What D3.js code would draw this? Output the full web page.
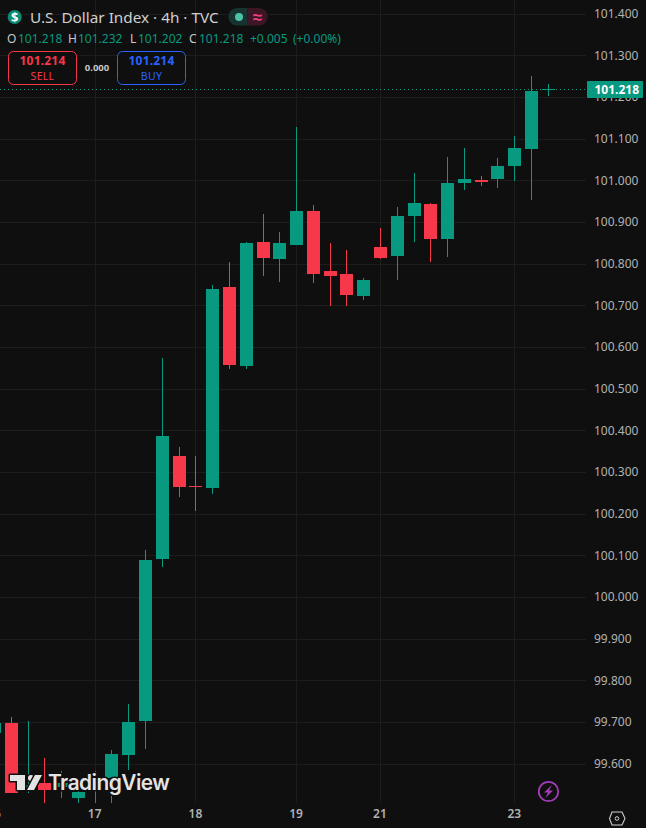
<!DOCTYPE html>
<html>
<head>
<meta charset="utf-8">
<script src="https://cdn.jsdelivr.net/npm/d3@7"></script>
<style>
  html, body { margin: 0; padding: 0; background: #0f0f0f; overflow: hidden; }
  svg { display: block; font-family: "Noto Sans", sans-serif; }
</style>
</head>
<body>
<div id="chart"></div>
<script>
var opens  = [99.674, 99.698, 99.537, 99.554, 99.545, 99.519, 99.550, 99.566, 99.621, 99.703, 100.091, 100.339, 100.267, 100.262, 100.744, 100.555, 100.852, 100.811, 100.845, 100.926, 100.782, 100.775, 100.722, 100.840, 100.818, 100.914, 100.943, 100.859, 100.994, 101.001, 101.003, 101.034, 101.076, 101.218];
var highs  = [99.700, 99.712, 99.703, 99.614, 99.583, 99.537, 99.583, 99.633, 99.744, 100.113, 100.574, 100.360, 100.339, 100.749, 100.804, 100.852, 100.919, 100.876, 101.128, 100.941, 100.850, 100.833, 100.766, 100.886, 100.936, 101.018, 100.946, 101.056, 101.078, 101.010, 101.054, 101.106, 101.250, 101.232];
var lows   = [99.670, 99.531, 99.530, 99.506, 99.518, 99.506, 99.506, 99.506, 99.585, 99.636, 100.073, 100.240, 100.207, 100.247, 100.547, 100.547, 100.770, 100.756, 100.845, 100.754, 100.698, 100.698, 100.713, 100.811, 100.761, 100.852, 100.804, 100.816, 100.977, 100.986, 100.982, 100.998, 100.953, 101.202];
var closes = [99.698, 99.531, 99.550, 99.537, 99.553, 99.532, 99.560, 99.624, 99.700, 100.089, 100.387, 100.264, 100.264, 100.739, 100.557, 100.850, 100.814, 100.850, 100.926, 100.775, 100.770, 100.725, 100.761, 100.814, 100.914, 100.946, 100.859, 100.994, 101.003, 100.996, 101.034, 101.078, 101.214, 101.218];

var priceTicks = [99.6, 99.7, 99.8, 99.9, 100, 100.1, 100.2, 100.3, 100.4, 100.5, 100.6, 100.7, 100.8, 100.9, 101, 101.1, 101.2, 101.3, 101.4];
var dayBars   = [0, 6, 12, 18, 23, 31];
var dayLabels = ["16", "17", "18", "19", "21", "23"];
var lastPrice = 101.218;

var legendOhlc = [["O", "101.218", 7, 18], ["H", "101.232", 68, 78], ["L", "101.202", 130, 138], ["C", "101.218", 189, 199]];

var GREEN = "#089981", RED = "#f7374a", BG = "#0f0f0f", GRID = "#1d1d1d", AXIS_TEXT = "#b2b2b2";
var width = 646, height = 828, plotRight = 586, plotBottom = 803;

var x = d3.scaleLinear().domain([0, 33]).range([-5.5, 548.3]);
var y = d3.scaleLinear().domain([99.6, 101.4]).range([763.8, 13.6]);

var svg = d3.select("#chart").append("svg").attr("width", width).attr("height", height);
svg.append("rect").attr("width", width).attr("height", height).attr("fill", BG);

var plot = svg.append("g");

// grid
plot.append("g").selectAll("line").data(priceTicks).enter().append("line")
  .attr("x1", 0).attr("x2", plotRight)
  .attr("y1", function(d) { return Math.round(y(d)) + 0.5; })
  .attr("y2", function(d) { return Math.round(y(d)) + 0.5; })
  .attr("stroke", GRID);
plot.append("g").selectAll("line").data(dayBars).enter().append("line")
  .attr("x1", function(d) { return Math.floor(x(d)) + 0.5; })
  .attr("x2", function(d) { return Math.floor(x(d)) + 0.5; })
  .attr("y1", 0).attr("y2", plotBottom)
  .attr("stroke", GRID);

// candles
var bars = opens.map(function(o, i) {
  return { i: i, o: o, h: highs[i], l: lows[i], c: closes[i] };
});
function barColor(d) { return d.c >= d.o ? GREEN : RED; }
var candle = plot.append("g").selectAll("g").data(bars).enter().append("g");
candle.append("rect")
  .attr("x", function(d) { return Math.floor(x(d.i)); })
  .attr("width", 1)
  .attr("y", function(d) { return Math.round(y(d.h)); })
  .attr("height", function(d) { return Math.round(y(d.l)) - Math.round(y(d.h)); })
  .attr("fill", barColor);
candle.append("rect")
  .attr("x", function(d) { return Math.floor(x(d.i)) - 6; })
  .attr("width", 13)
  .attr("y", function(d) { return Math.round(y(Math.max(d.o, d.c))); })
  .attr("height", function(d) { return Math.max(1, Math.round(y(Math.min(d.o, d.c))) - Math.round(y(Math.max(d.o, d.c)))); })
  .attr("fill", barColor);

// last price line
plot.append("line")
  .attr("x1", 0).attr("x2", plotRight)
  .attr("y1", Math.round(y(lastPrice)) + 0.5).attr("y2", Math.round(y(lastPrice)) + 0.5)
  .attr("stroke", GREEN).attr("stroke-dasharray", "1 3");

// price axis
var yAxis = d3.axisRight(y).tickValues(priceTicks).tickSize(0).tickPadding(0).tickFormat(d3.format(".3f"));
var yG = svg.append("g").attr("transform", "translate(594,0)").call(yAxis);
yG.select(".domain").remove();
yG.selectAll("text").attr("fill", AXIS_TEXT).attr("font-size", 12).attr("font-family", "\"Noto Sans\", sans-serif");

// last price label
svg.append("rect").attr("x", 587).attr("y", 81).attr("width", 56).attr("height", 17).attr("rx", 1).attr("fill", GREEN);
svg.append("text").attr("x", 594.5).attr("y", 94).attr("fill", "#fff")
  .attr("font-size", 12).attr("font-weight", 700).text(d3.format(".3f")(lastPrice));

// time axis
var xAxis = d3.axisBottom(x).tickValues(dayBars).tickSize(0).tickPadding(0)
  .tickFormat(function(d, i) { return dayLabels[i]; });
var xG = svg.append("g").attr("transform", "translate(-1,809)").call(xAxis);
xG.select(".domain").remove();
xG.selectAll("text").attr("fill", AXIS_TEXT).attr("font-size", 12).attr("font-weight", 600).attr("font-family", "\"Noto Sans\", sans-serif");

// watermark
var mark = svg.append("g").attr("fill", "#e3e3e3").attr("stroke", BG).attr("stroke-width", 3)
  .attr("paint-order", "stroke").attr("stroke-linejoin", "round");
mark.append("path").attr("d", "M10 775H25V790H17V781H10Z");
mark.append("circle").attr("cx", 31).attr("cy", 778).attr("r", 3);
mark.append("path").attr("d", "M35 775H42L34 790H27Z");
mark.append("text").attr("x", 48).attr("y", 790).attr("font-size", 21).attr("font-weight", 600)
  .attr("font-family", "Inter, sans-serif").attr("textLength", 122).text("TradingView");

// header
svg.append("circle").attr("cx", 14.7).attr("cy", 17).attr("r", 7).attr("fill", "#0a8a72");
svg.append("text").attr("x", 14.7).attr("y", 21.5).attr("text-anchor", "middle").attr("fill", "#fff")
  .attr("font-size", 13).attr("font-weight", 700).text("$");
svg.append("text").attr("x", 30).attr("y", 22.5).attr("fill", "#cfcfcf").attr("font-size", 15.3)
  .text("U.S. Dollar Index · 4h · TVC");

svg.append("path").attr("d", "M247.5 8H237a8.7 8.7 0 0 0 0 17.5H247.5Z").attr("fill", "#16332f");
svg.append("path").attr("d", "M247.5 8H259a8.7 8.7 0 0 1 0 17.5H247.5Z").attr("fill", "#3d1626");
svg.append("circle").attr("cx", 239).attr("cy", 17).attr("r", 4).attr("fill", "#4cc1a6");
svg.append("text").attr("x", 257.5).attr("y", 23).attr("text-anchor", "middle").attr("fill", "#ef3f7f")
  .attr("font-size", 17).attr("font-weight", 700).text("≈");

var legend = svg.append("g").attr("font-size", 12);
legendOhlc.forEach(function(row) {
  legend.append("text").attr("x", row[2]).attr("y", 43).attr("fill", "#c8c8c8").text(row[0]);
  legend.append("text").attr("x", row[3]).attr("y", 43).attr("fill", GREEN).text(row[1]);
});
legend.append("text").attr("x", 250).attr("y", 43).attr("fill", GREEN).text("+0.005");
legend.append("text").attr("x", 293).attr("y", 43).attr("fill", GREEN).text("(+0.00%)");

// sell / buy
function tradeBox(bx, w, color, side, labelColor) {
  svg.append("rect").attr("x", bx).attr("y", 51.5).attr("width", w).attr("height", 33).attr("rx", 5)
    .attr("fill", BG).attr("stroke", color);
  svg.append("text").attr("x", bx + w / 2).attr("y", 65).attr("text-anchor", "middle").attr("fill", color)
    .attr("font-size", 12).attr("font-weight", 700).attr("letter-spacing", 0.2).text("101.214");
  svg.append("text").attr("x", bx + w / 2).attr("y", 79.5).attr("text-anchor", "middle").attr("fill", labelColor)
    .attr("font-size", 10.5).attr("letter-spacing", 0.3).text(side);
}
tradeBox(8.5, 68, "#f7374a", "SELL", "#f7374a");
tradeBox(117.5, 68, "#2962ff", "BUY", "#2962ff");
svg.append("text").attr("x", 97).attr("y", 71).attr("text-anchor", "middle").attr("fill", "#c8c8c8")
  .attr("font-size", 9.5).attr("font-weight", 700).text("0.000");

// bolt + settings
svg.append("circle").attr("cx", 548.5).attr("cy", 791.5).attr("r", 9.7).attr("fill", "none").attr("stroke", "#a33cb8").attr("stroke-width", 1.8);
svg.append("path").attr("d", "M552 785L544 792.5H548L545.5 798L553 790.5H549Z").attr("fill", "#a33cb8");
svg.append("path").attr("d", "M612 812H622L625 818.5L622 825H612L609.5 818.5Z").attr("fill", "none").attr("stroke", "#d0d0d0").attr("stroke-width", 1.1);
svg.append("circle").attr("cx", 617).attr("cy", 818.5).attr("r", 1.8).attr("fill", "none").attr("stroke", "#d0d0d0");
</script>
</body>
</html>
